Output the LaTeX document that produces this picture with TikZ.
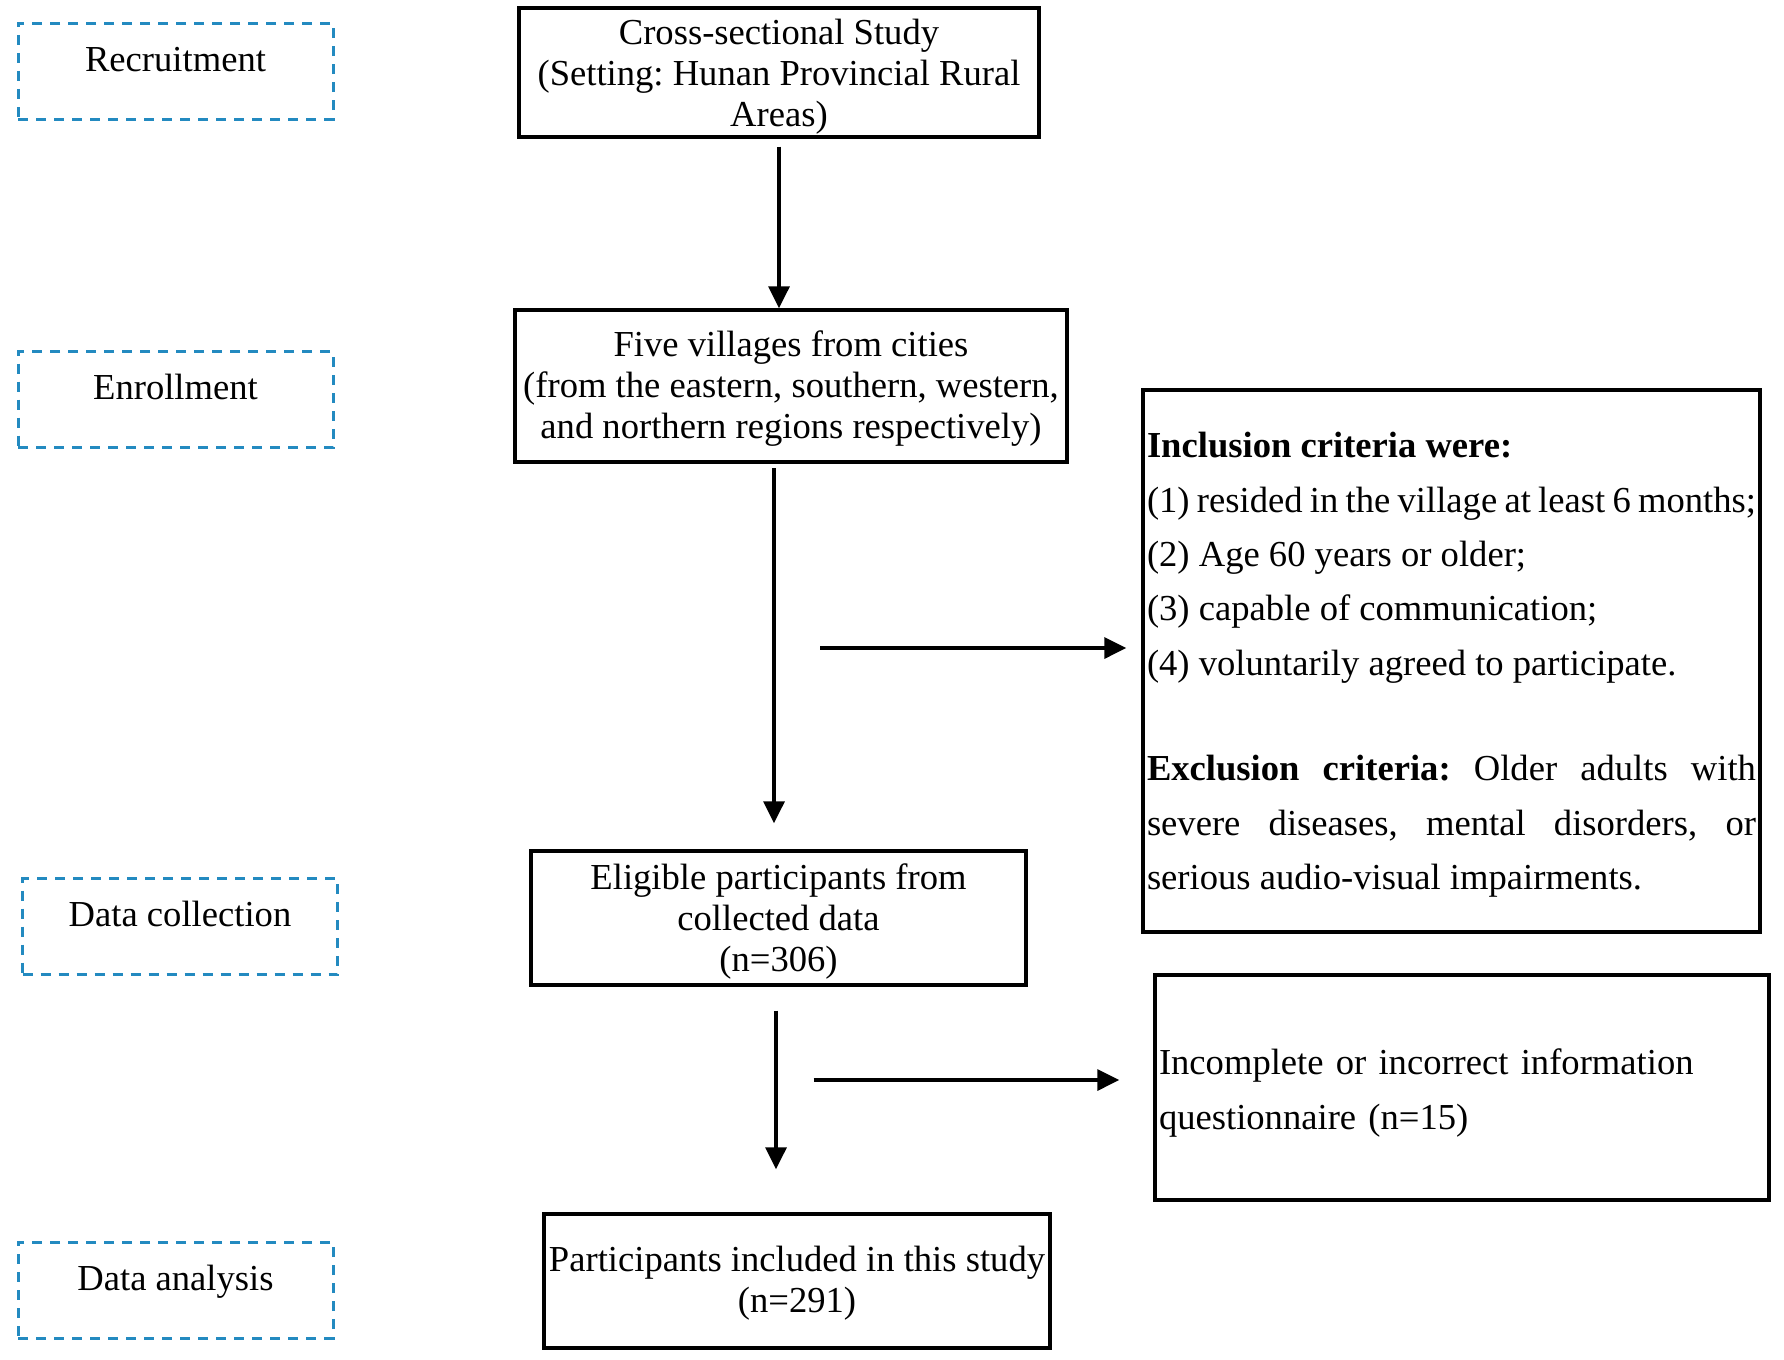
\documentclass[tikz,border=0pt]{standalone}
\usepackage{fontspec}
\setmainfont{Liberation Serif}
\usetikzlibrary{arrows.meta}
\definecolor{stageblue}{RGB}{35,138,192}
\newcommand{\myTopStrut}[1]{\rule{0pt}{#1}}
\begin{document}
\frenchspacing
\begin{tikzpicture}[x=0.5pt,y=-0.5pt,
  txt/.style={font=\fontsize{18.3}{20.5}\selectfont},
  mainbox/.style={draw, line width=1.7pt, inner sep=0pt, align=center, txt},
  stagebox/.style={draw=stageblue, line width=1.5pt, dash pattern=on 5pt off 4pt, minimum width=157.5pt, minimum height=48pt, inner sep=0pt},
  stagelabel/.style={anchor=base, inner sep=0pt, txt},
  arr/.style={line width=1.7pt, -{Triangle[length=11pt,width=10.5pt]}},
  critbox/.style={draw, line width=1.7pt, inner ysep=0pt, inner xsep=2pt, font=\fontsize{18.3}{27.2}\selectfont}
]
\useasboundingbox (0,0) rectangle (1784,1360);

% stage boxes
\node[stagebox] (recruit) at (175.5,71) {};
\node[stagelabel] (recruitT) at (recruit.center) {Recruitment};
\node[stagebox] (enroll) at (175.5,399.5) {};
\node[stagelabel] (enrollT) at (enroll.center) {Enrollment};
\node[stagebox] (collect) at (180,926.5) {};
\node[stagelabel] (collectT) at (collect.center) {Data collection};
\node[stagebox] (analysis) at (175.5,1290) {};
\node[stagelabel] (analysisT) at (analysis.center) {Data analysis};

% main flow
\node[mainbox, minimum width=260pt, minimum height=64.5pt] (study) at (779,72.5)
  {\myTopStrut{17.1pt}Cross-sectional Study\\(Setting: Hunan Provincial Rural\\Areas)};
\node[mainbox, minimum width=276pt, minimum height=76pt] (villages) at (791,386)
  {\myTopStrut{15.9pt}Five villages from cities\\(from the eastern, southern, western,\\and northern regions respectively)};
\node[mainbox, minimum width=247.5pt, minimum height=67pt] (eligible) at (778.5,918)
  {\myTopStrut{16.3pt}Eligible participants from\\collected data\\(n=306)};
\node[mainbox, minimum width=253pt, minimum height=67pt] (included) at (797,1281)
  {\myTopStrut{14.8pt}Participants included in this study\\(n=291)};

% side boxes
\node[critbox, text width=304.5pt, align=justify, minimum height=271pt] (incl) at (1451.5,661)
  {\myTopStrut{16.4pt}\textbf{Inclusion criteria were:}\\
   (1) resided in the village at least 6 months;\\
   (2) Age 60 years or older;\\
   (3) capable of communication;\\
   (4) voluntarily agreed to participate.\\[25.5pt]
   \textbf{Exclusion criteria:} Older adults with\linebreak severe diseases, mental disorders, or\linebreak serious audio-visual impairments.};
\node[critbox, text width=303pt, align=left, minimum height=112.5pt] (incomplete) at (1462,1087.5)
  {\myTopStrut{18.2pt}Incomplete or incorrect information\\questionnaire (n=15)};

% connectors
\draw[arr] ([yshift=-4pt]study.south) -- (study.south |- villages.north);
\draw[arr] ([xshift=-8.5pt,yshift=-2.25pt]villages.south) -- ([xshift=-2.25pt,yshift=13pt]eligible.north);
\draw[arr] ([xshift=-1.25pt,yshift=-12pt]eligible.south) -- ([xshift=-10.5pt,yshift=21.5pt]included.north);
\coordinate (h1) at (820,648);
\draw[arr] (h1) -- ([xshift=-7.5pt]incl.west |- h1);
\coordinate (h2) at (813.5,1080);
\draw[arr] (h2) -- ([xshift=-17pt]incomplete.west |- h2);
\end{tikzpicture}
\end{document}
